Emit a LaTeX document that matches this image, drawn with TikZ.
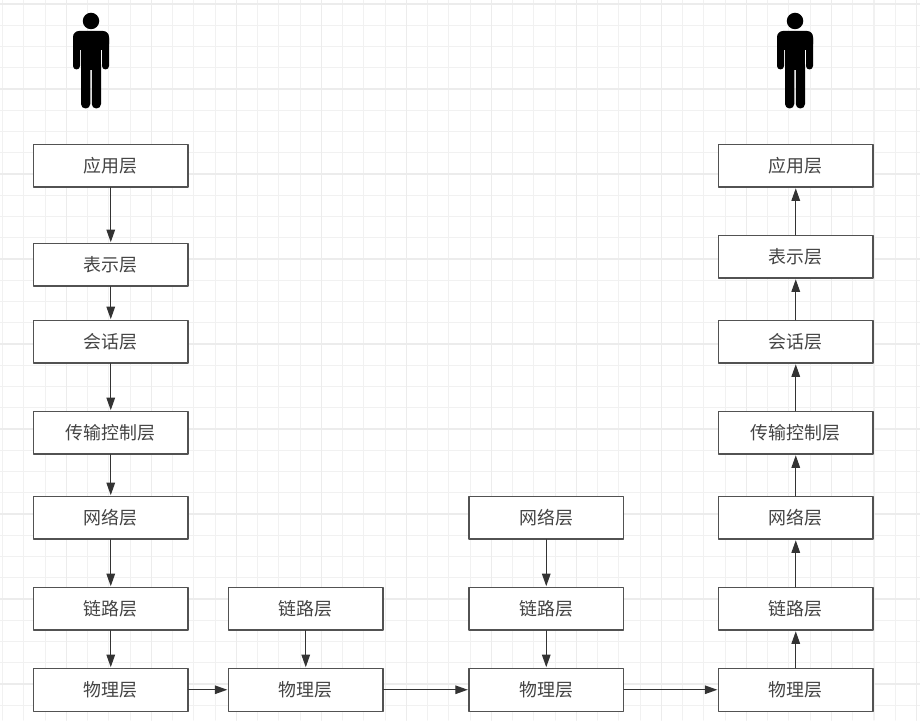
\documentclass[tikz,border=0pt]{standalone}
\usepackage{fontspec}
\setmainfont{Noto Sans CJK SC}
\usetikzlibrary{arrows.meta}
\definecolor{gridminor}{HTML}{F1F1F1}
\definecolor{gridmajor}{HTML}{ECECEC}
\definecolor{linegray}{HTML}{333333}
\definecolor{textgray}{HTML}{444444}
\tikzset{
	layer/.style={draw=linegray!85, fill=white, line width=0.72pt, minimum width=3.09cm, minimum height=0.855cm, inner sep=0pt, text=textgray, font=\fontsize{10.2pt}{12pt}\selectfont},
	link/.style={draw=linegray, line width=0.7pt, -{Stealth[length=0.25cm,width=0.17cm,inset=0pt]}, shorten >=0.3pt},
	pics/person/.style={code={
		\fill (0,-0.42) circle (0.165);
		\fill[rounded corners=0.12cm] (-0.36,-0.62) rectangle (0.36,-1.0);
		\fill[rounded corners=0.07cm] (-0.36,-0.7) rectangle (-0.22,-1.39);
		\fill[rounded corners=0.07cm] (0.22,-0.7) rectangle (0.36,-1.39);
		\fill (-0.2,-0.7) rectangle (0.2,-1.4);
		\fill[rounded corners=0.09cm] (-0.2,-1.2) rectangle (-0.015,-2.17);
		\fill[rounded corners=0.09cm] (0.015,-1.2) rectangle (0.2,-2.17);
	}},
}
\begin{document}
\begin{tikzpicture}[line join=round, line cap=round]
	\useasboundingbox (0,0) rectangle (18.4,14.4);
	\fill[white] (0,0) rectangle (18.4,14.4);
	
	% background grid
	\foreach \i in {0,...,43} {
		\draw[gridminor, line width=0.6pt] ({0.054+0.425*\i},0)--({0.054+0.425*\i},14.4);
	}
	\foreach \j in {0,...,33} {
		\draw[gridminor, line width=0.6pt] (0,{14.32-0.425*\j})--(18.4,{14.32-0.425*\j});
	}
	\foreach \i in {0,...,10} {
		\draw[gridmajor, line width=0.9pt] ({1.329+1.7*\i},0)--({1.329+1.7*\i},14.4);
	}
	\foreach \j in {0,...,8} {
		\draw[gridmajor, line width=0.9pt] (0,{14.32-1.7*\j})--(18.4,{14.32-1.7*\j});
	}
	
	% left column
	\node[layer] (appA) at (2.215,11.085) {应用层};
	\node[layer] (preA) at (2.215,9.105) {表示层};
	\node[layer] (sesA) at (2.215,7.565) {会话层};
	\node[layer] (traA) at (2.215,5.745) {传输控制层};
	\node[layer] (netA) at (2.215,4.045) {网络层};
	\node[layer] (datA) at (2.215,2.225) {链路层};
	\node[layer] (phyA) at (2.215,0.605) {物理层};
	
	% first hop
	\node[layer] (datB) at (6.115,2.225) {链路层};
	\node[layer] (phyB) at (6.115,0.605) {物理层};
	
	% second hop
	\node[layer] (netC) at (10.925,4.045) {网络层};
	\node[layer] (datC) at (10.925,2.225) {链路层};
	\node[layer] (phyC) at (10.925,0.605) {物理层};
	
	% right column
	\node[layer] (appD) at (15.915,11.085) {应用层};
	\node[layer] (preD) at (15.915,9.265) {表示层};
	\node[layer] (sesD) at (15.915,7.565) {会话层};
	\node[layer] (traD) at (15.915,5.745) {传输控制层};
	\node[layer] (netD) at (15.915,4.045) {网络层};
	\node[layer] (datD) at (15.915,2.225) {链路层};
	\node[layer] (phyD) at (15.915,0.605) {物理层};
	
	\pic at (1.82,14.4) {person};
	\pic at (15.9,14.4) {person};
	
	\draw[link] (appA)--(preA);
	\draw[link] (preA)--(sesA);
	\draw[link] (sesA)--(traA);
	\draw[link] (traA)--(netA);
	\draw[link] (netA)--(datA);
	\draw[link] (datA)--(phyA);
	\draw[link] (datB)--(phyB);
	\draw[link] (netC)--(datC);
	\draw[link] (datC)--(phyC);
	\draw[link] (phyD)--(datD);
	\draw[link] (datD)--(netD);
	\draw[link] (netD)--(traD);
	\draw[link] (traD)--(sesD);
	\draw[link] (sesD)--(preD);
	\draw[link] (preD)--(appD);
	\draw[link] (phyA)--(phyB);
	\draw[link] (phyB)--(phyC);
	\draw[link] (phyC)--(phyD);
\end{tikzpicture}
\end{document}
